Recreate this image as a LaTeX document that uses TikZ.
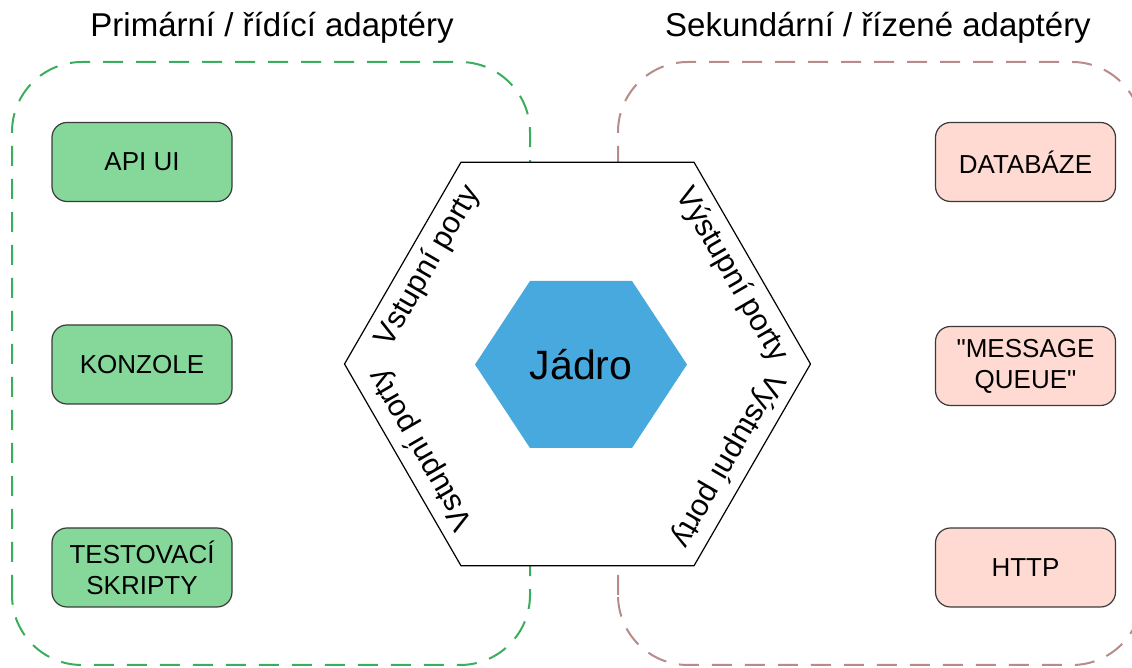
\documentclass[tikz,border=0pt]{standalone}
\usepackage{fontspec}
\setmainfont{Liberation Sans}[Ligatures=TeXOff]
\usetikzlibrary{calc}
\definecolor{primfill}{HTML}{86D89A}
\definecolor{primline}{HTML}{3AAE5C}
\definecolor{secfill}{HTML}{FFDAD2}
\definecolor{secline}{HTML}{B88A8A}
\definecolor{corefill}{HTML}{48A9DE}
\definecolor{boxline}{HTML}{3A3A3A}
\begin{document}
\begin{tikzpicture}[x=1pt,y=1pt,
		adapter/.style={draw=boxline, line width=1.2pt, rounded corners=15pt, minimum width=180pt, minimum height=79pt, align=center, font=\fontsize{26}{31}\selectfont},
		primary/.style={adapter, fill=primfill},
		secondary/.style={adapter, fill=secfill},
		zone/.style={dash pattern=on 20pt off 13pt, line width=2pt, rounded corners=70pt},
		title/.style={font=\fontsize{33}{40}\selectfont, anchor=base},
		port/.style={font=\fontsize{30.5}{36}\selectfont}]
	\useasboundingbox (0,0) rectangle (1132,668);
	\clip (0,0) rectangle (1132,668);
	% zones
	\draw[zone, draw=primline] (12,3) rectangle (530,606);
	\draw[zone, draw=secline] (618,3) rectangle (1142,606);
	\node[title] (primtitle) at (272,631) {Primární / řídící adaptéry};
	\node[title] (sectitle) at (878,631) {Sekundární / řízené adaptéry};
	% adapters
	\node[primary] (apiui) at (142,506) {API UI};
	\node[primary] (konzole) at (142,303.5) {KONZOLE};
	\node[primary] (skripty) at (142,100.5) {TESTOVACÍ\\SKRIPTY};
	\node[secondary] (databaze) at (1025.5,506) {DATABÁZE};
	\node[secondary] (queue) at (1025.5,302) {"MESSAGE\\QUEUE"};
	\node[secondary] (http) at (1025.5,100.5) {HTTP};
	% hexagon with ports
	\coordinate (hex) at (577.5,304);
	\draw[line width=1.2pt, fill=white] (hex) +(0:233) -- +(60:233) -- +(120:233) -- +(180:233) -- +(240:233) -- +(300:233) -- cycle;
	\foreach \ang/\sh/\txt in {150/10/Vstupní porty, 210/4/Vstupní porty, 30/0/Výstupní porty, -30/8/Výstupní porty}
		\node[port, rotate=\ang-90] at ($(hex)+(\ang:178)+(\ang-90:\sh)$) {\txt};
	% core
	\fill[corefill] (581,303.5) +(-106,0) -- +(-51,83.5) -- +(51,83.5) -- +(106,0) -- +(51,-83.5) -- +(-51,-83.5) -- cycle;
	\node[font=\fontsize{41}{48}\selectfont] (core) at (581,303.5) {Jádro};
\end{tikzpicture}
\end{document}
